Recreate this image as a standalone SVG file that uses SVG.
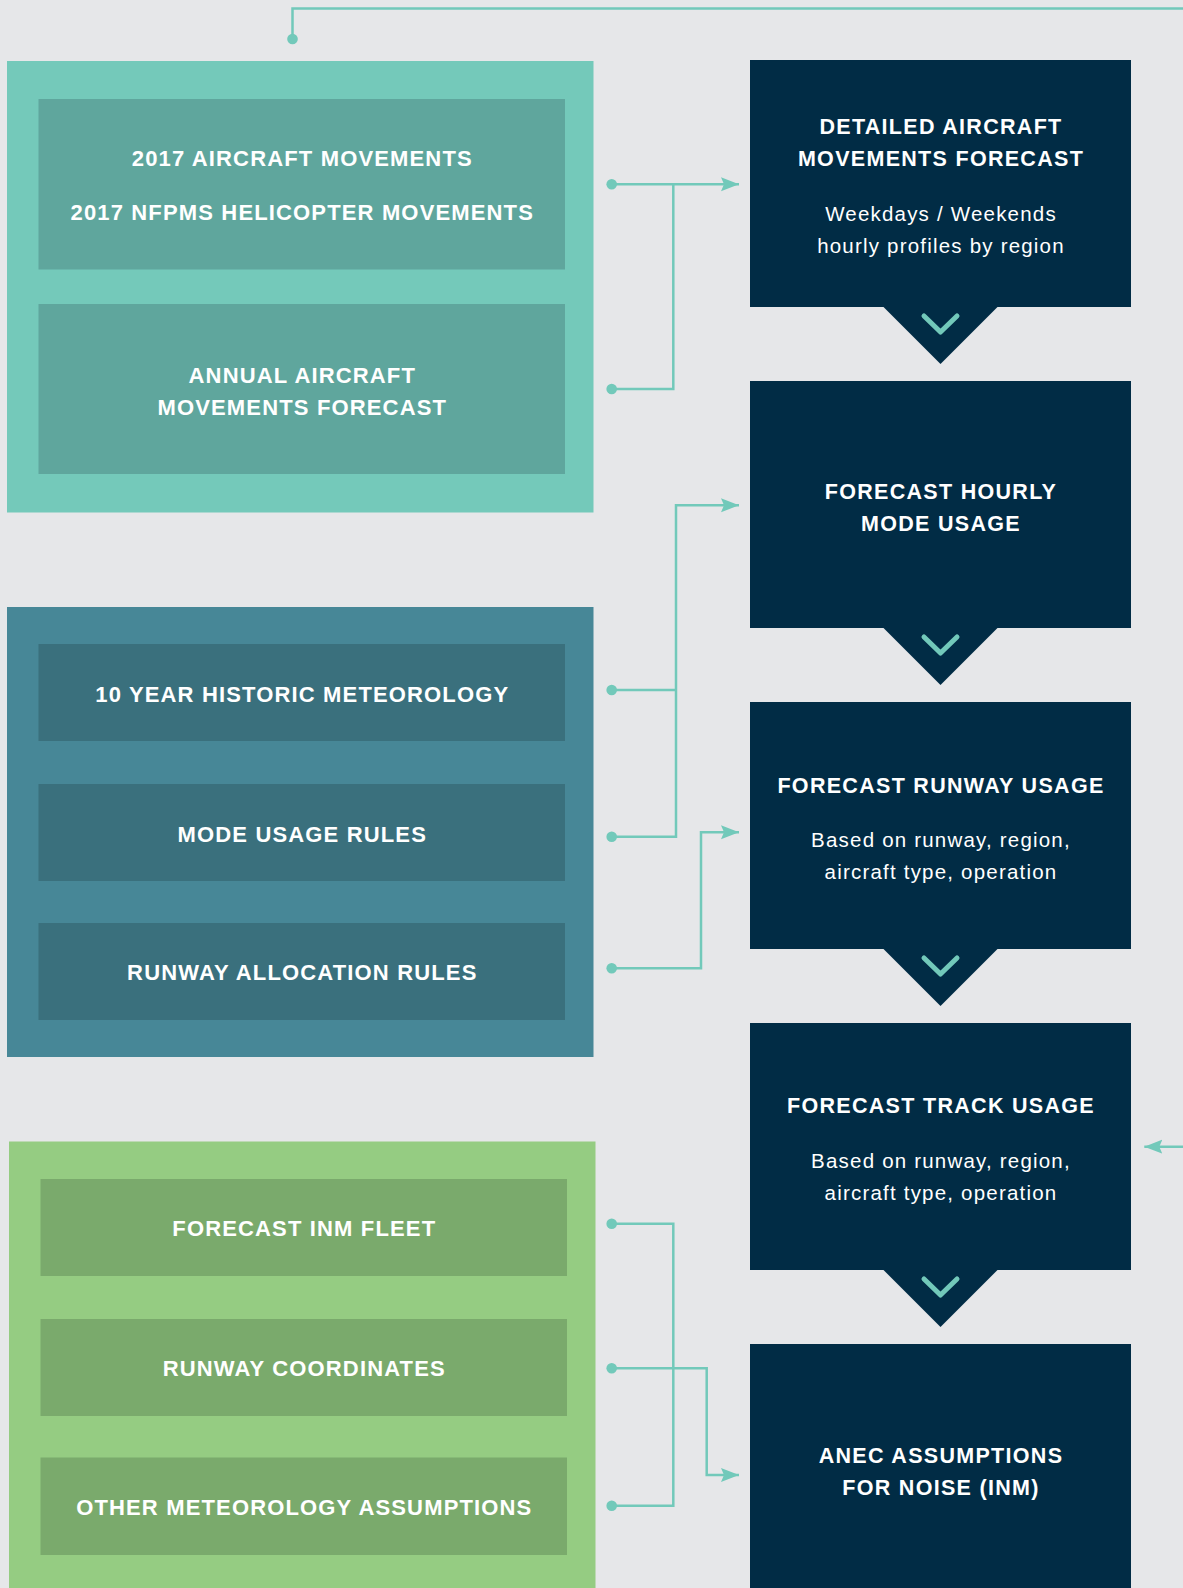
<svg xmlns="http://www.w3.org/2000/svg" width="1183" height="1588" viewBox="0 0 1183 1588">
<defs>
<style>
.bg{fill:#E6E7E9}
.tealO{fill:#74C9BA}.tealI{fill:#5FA69D}
.blueO{fill:#478797}.blueI{fill:#3A707D}
.greenO{fill:#95CC82}.greenI{fill:#7AAA6C}
.dark{fill:#012C45}
.lt{font-family:"Liberation Sans",Arial,sans-serif;font-weight:700;font-size:22px;letter-spacing:1.15px;fill:#FFFFFF;text-anchor:middle}
.rt{font-family:"Liberation Sans",Arial,sans-serif;font-weight:700;font-size:21.5px;letter-spacing:1.3px;fill:#FFFFFF;text-anchor:middle}
.rs{font-family:"Liberation Sans",Arial,sans-serif;font-weight:400;font-size:20.5px;letter-spacing:1.2px;fill:#FFFFFF;text-anchor:middle}
.ln{fill:none;stroke:#72C9BA;stroke-width:2.5}
.ar{fill:none;stroke:#72C9BA;stroke-width:2.5;marker-end:url(#arrow)}
.dot{fill:#72C9BA}
.chev{fill:none;stroke:#72C9BA;stroke-width:5;stroke-linecap:round;stroke-linejoin:round}
</style>
<marker id="arrow" markerUnits="userSpaceOnUse" markerWidth="20" markerHeight="16" refX="18" refY="7" orient="auto">
<path d="M0,0 L18,7 L0,14 L3,7 Z" fill="#72C9BA"/>
</marker>
</defs>
<rect class="bg" x="0" y="0" width="1183" height="1588"/>

<g id="group-teal">
<rect class="tealO" x="7" y="61" width="586.5" height="451.5"/>
<g id="node-2017-movements">
<rect class="tealI" x="38.5" y="99" width="526.5" height="170.5"/>
<text class="lt" x="302.3" y="166">2017 AIRCRAFT MOVEMENTS</text>
<text class="lt" x="302.3" y="220">2017 NFPMS HELICOPTER MOVEMENTS</text>
</g>
<g id="node-annual-forecast">
<rect class="tealI" x="38.5" y="304" width="526.5" height="170"/>
<text class="lt" x="302.3" y="383">ANNUAL AIRCRAFT</text>
<text class="lt" x="302.3" y="414.5">MOVEMENTS FORECAST</text>
</g>
</g>

<g id="group-blue">
<rect class="blueO" x="7" y="607" width="586.5" height="450"/>
<g id="node-meteorology">
<rect class="blueI" x="38.5" y="644" width="526.5" height="97"/>
<text class="lt" x="302.3" y="701.5">10 YEAR HISTORIC METEOROLOGY</text>
</g>
<g id="node-mode-rules">
<rect class="blueI" x="38.5" y="784" width="526.5" height="97"/>
<text class="lt" x="302.3" y="842">MODE USAGE RULES</text>
</g>
<g id="node-runway-rules">
<rect class="blueI" x="38.5" y="923" width="526.5" height="97"/>
<text class="lt" x="302.3" y="980">RUNWAY ALLOCATION RULES</text>
</g>
</g>

<g id="group-green">
<rect class="greenO" x="9" y="1141.5" width="586.5" height="446.5"/>
<g id="node-inm-fleet">
<rect class="greenI" x="40.5" y="1179" width="526.5" height="97"/>
<text class="lt" x="304.3" y="1236">FORECAST INM FLEET</text>
</g>
<g id="node-runway-coords">
<rect class="greenI" x="40.5" y="1319" width="526.5" height="97"/>
<text class="lt" x="304.3" y="1376">RUNWAY COORDINATES</text>
</g>
<g id="node-other-met">
<rect class="greenI" x="40.5" y="1457.5" width="526.5" height="97.5"/>
<text class="lt" x="304.3" y="1514.5">OTHER METEOROLOGY ASSUMPTIONS</text>
</g>
</g>

<g id="node-detailed-forecast">
<path class="dark" d="M750,60 H1131 V307 H997.5 L940.5,364 L883.5,307 H750 Z"/>
<polyline class="chev" points="924,316 940.5,332 957,316"/>
<text class="rt" x="941" y="133.5">DETAILED AIRCRAFT</text>
<text class="rt" x="941" y="166">MOVEMENTS FORECAST</text>
<text class="rs" x="941" y="221">Weekdays / Weekends</text>
<text class="rs" x="941" y="252.5">hourly profiles by region</text>
</g>

<g id="node-mode-usage">
<path class="dark" d="M750,381 H1131 V628 H997.5 L940.5,685 L883.5,628 H750 Z"/>
<polyline class="chev" points="924,637 940.5,653 957,637"/>
<text class="rt" x="941" y="498.5">FORECAST HOURLY</text>
<text class="rt" x="941" y="531">MODE USAGE</text>
</g>

<g id="node-runway-usage">
<path class="dark" d="M750,702 H1131 V949 H997.5 L940.5,1006 L883.5,949 H750 Z"/>
<polyline class="chev" points="924,958 940.5,974 957,958"/>
<text class="rt" x="941" y="792.5">FORECAST RUNWAY USAGE</text>
<text class="rs" x="941" y="847">Based on runway, region,</text>
<text class="rs" x="941" y="879">aircraft type, operation</text>
</g>

<g id="node-track-usage">
<path class="dark" d="M750,1023 H1131 V1270 H997.5 L940.5,1327 L883.5,1270 H750 Z"/>
<polyline class="chev" points="924,1279 940.5,1295 957,1279"/>
<text class="rt" x="941" y="1113">FORECAST TRACK USAGE</text>
<text class="rs" x="941" y="1168">Based on runway, region,</text>
<text class="rs" x="941" y="1200">aircraft type, operation</text>
</g>

<g id="node-anec">
<rect class="dark" x="750" y="1344" width="381" height="244"/>
<text class="rt" x="941" y="1462.5">ANEC ASSUMPTIONS</text>
<text class="rt" x="941" y="1494.5">FOR NOISE (INM)</text>
</g>

<g id="connectors">
<polyline class="ln" points="1183,8.5 292.5,8.5 292.5,39"/>
<circle class="dot" cx="292.5" cy="39" r="5.3"/>

<polyline class="ar" points="611.7,184.3 739,184.3"/>
<polyline class="ln" points="611.7,389 673.3,389 673.3,184.3"/>
<circle class="dot" cx="611.7" cy="184.3" r="5.3"/>
<circle class="dot" cx="611.7" cy="389" r="5.3"/>

<polyline class="ar" points="611.7,836.7 676,836.7 676,505.3 739,505.3"/>
<polyline class="ln" points="611.7,690 676,690"/>
<circle class="dot" cx="611.7" cy="690" r="5.3"/>
<circle class="dot" cx="611.7" cy="836.7" r="5.3"/>

<polyline class="ar" points="611.7,968.3 701,968.3 701,832.3 739,832.3"/>
<circle class="dot" cx="611.7" cy="968.3" r="5.3"/>

<polyline class="ln" points="611.7,1223.7 673.3,1223.7 673.3,1505.7 611.7,1505.7"/>
<polyline class="ar" points="611.7,1368.3 706.7,1368.3 706.7,1475 739,1475"/>
<circle class="dot" cx="611.7" cy="1223.7" r="5.3"/>
<circle class="dot" cx="611.7" cy="1368.3" r="5.3"/>
<circle class="dot" cx="611.7" cy="1505.7" r="5.3"/>

<polyline class="ar" points="1183,1146.7 1144.3,1146.7"/>
</g>
</svg>
